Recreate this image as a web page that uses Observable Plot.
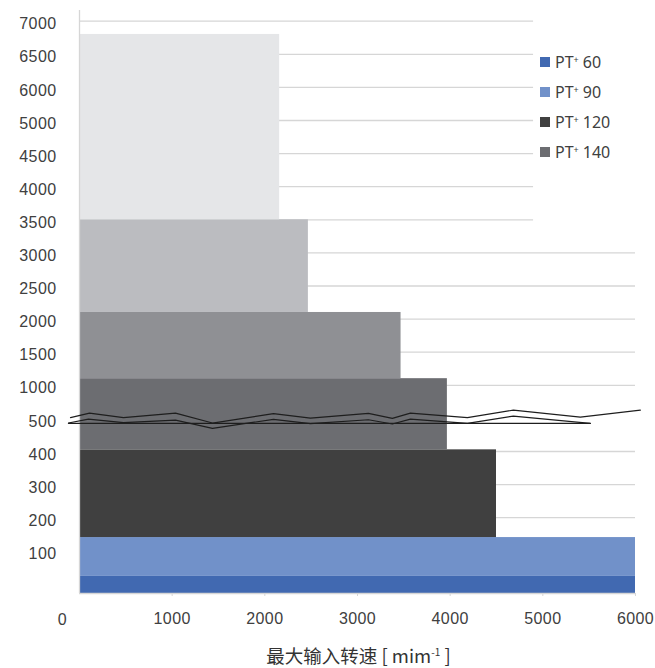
<!DOCTYPE html>
<html>
<head>
<meta charset="utf-8">
<script src="https://cdn.jsdelivr.net/npm/d3@7"></script>
<script src="https://cdn.jsdelivr.net/npm/@observablehq/plot@0.6"></script>
<style>
  body { margin: 0; background: #fff; }
  #wrap { position: relative; width: 655px; height: 668px; overflow: hidden; }
  #legend { position: absolute; left: 540px; top: 46.5px; font-family: "Noto Sans", "Liberation Sans", sans-serif; font-size: 16px; color: #404040; }
  .item { height: 30.2px; line-height: 30.2px; white-space: nowrap; display: flex; align-items: center; }
  .sw { width: 10px; height: 10px; margin-right: 5px; display: inline-block; }
  .item sup { font-size: 9px; line-height: 0; position: relative; top: -2px; vertical-align: super; margin-right: 4px; }
  #caption { position: absolute; top: 643px; left: 62px; width: 593px; text-align: center; font-family: "Noto Sans CJK SC", sans-serif; font-size: 18.5px; line-height: 24px; color: #333; }
  #caption sup { font-size: 10px; vertical-align: super; line-height: 0; }
</style>
</head>
<body>
<div id="wrap">
  <div id="chart"></div>
  <div id="legend"></div>
  <div id="caption">最大输入转速 [ mim<sup>-1</sup> ]</div>
</div>
<script>
// ---- data ----
const barSeries = ["PT⁺ 60", "PT⁺ 90", "PT⁺ 120", "PT⁺ 140", "band5", "band6", "band7"];
const barLow    = [0,    40,   140,  405,  1100, 2100, 3500];
const barHigh   = [40,   140,  405,  1100, 2100, 3500, 6800];
const barSpeed  = [6000, 6000, 4500, 3970, 3470, 2470, 2160];
const barColors = ["#4169b1", "#7191c9", "#404040", "#6c6d71", "#8f9094", "#bbbcc0", "#e5e6e8"];

const legendNames = ["PT", "PT", "PT", "PT"];
const legendNums  = ["60", "90", "120", "140"];

const yTickValues = [100, 200, 300, 400, 500, 1000, 1500, 2000, 2500, 3000, 3500, 4000, 4500, 5000, 6000, 6500, 7000];
const xTickValues = [1000, 2000, 3000, 4000, 5000, 6000];
const xZeroLabel  = [0];
const gridLong  = [100, 200, 300, 400, 1000, 1500, 2000, 2500, 3000];
const gridShort = [3500, 4000, 4500, 5000, 6000, 6500, 7000];
const gridLongEnd = 6000;
const gridShortEnd = 4900;

// axis break zig-zags (data units)
const breakAx = [-97, 108, 475, 1036, 1435, 2093, 2492, 3118, 3376, 3571, 4186, 4682, 5405, 6052];
const breakAy = [511, 580, 511, 580, 486, 571, 505, 575, 500, 580, 511, 625, 520, 625];
const breakBx = [-119, 97, 475, 1036, 1435, 2093, 2492, 3118, 3376, 3571, 4186, 4682, 5512];
const breakBy = [486, 498, 487, 495, 470, 497, 484, 496, 483, 498, 485, 535, 485];
const breakCx = [-119, 5512];
const breakCy = [485, 485];

// broken axis: value breakpoints and their positions in equal tick steps
const yBreakValues = [0, 100, 500, 5000, 6000, 7000];
const yBreakSteps  = [0, 1.29, 5.29, 14.29, 15.29, 17.29];

// ---- build tables ----
const yPos = d3.scaleLinear().domain(yBreakValues).range(yBreakSteps);
const bars = barSeries.map((s, i) => ({series: s, lo: barLow[i], hi: barHigh[i], speed: barSpeed[i]}));
const toPts = (xs, ys) => xs.map((x, i) => ({x, y: ys[i]}));
const breakA = toPts(breakAx, breakAy);
const breakB = toPts(breakBx, breakBy);
const breakC = toPts(breakCx, breakCy);

const gridColor = "#d6d6d6";

const chart = Plot.plot({
  width: 655,
  height: 636,
  marginLeft: 79,
  marginRight: 20,
  marginTop: 20.7,
  marginBottom: 43,
  style: {fontFamily: "'Liberation Sans', Arial, sans-serif", fontSize: "16px", color: "#404040", background: "#fff", letterSpacing: "0.4px", overflow: "visible"},
  x: {domain: [0, 6000]},
  y: {transform: v => yPos(v), domain: [0, 17.29], axis: null},
  color: {domain: barSeries, range: barColors},
  marks: [
    Plot.ruleY(gridLong, {y: d => d, x1: 0, x2: gridLongEnd, stroke: gridColor, strokeWidth: 1.3}),
    Plot.ruleY(gridShort, {y: d => d, x1: 0, x2: gridShortEnd, stroke: gridColor, strokeWidth: 1.3}),
    Plot.rect(bars, {x1: 0, x2: "speed", y1: "lo", y2: "hi", fill: "series"}),
    Plot.ruleX([0], {x: d => d, y1: 0, y2: 7160, stroke: gridColor, strokeWidth: 1.3}),
    Plot.ruleY([0], {y: d => d, x1: 0, x2: 6000, stroke: gridColor, strokeWidth: 1.3}),
    Plot.line(breakA, {x: "x", y: "y", stroke: "#1e1e1e", strokeWidth: 1.2, clip: false}),
    Plot.line(breakB, {x: "x", y: "y", stroke: "#1e1e1e", strokeWidth: 1.2, clip: false}),
    Plot.line(breakC, {x: "x", y: "y", stroke: "#1e1e1e", strokeWidth: 1.2, clip: false}),
    Plot.text(yTickValues, {y: d => d, frameAnchor: "left", dx: -23, dy: 3, textAnchor: "end", text: d => String(d), fill: "#404040"}),
    Plot.axisX({ticks: xTickValues, tickSize: 3, tickPadding: 16.5, stroke: gridColor, tickFormat: d => String(d), label: null}),
    Plot.text(xZeroLabel, {x: d => d, y: d => d, dx: -17, dy: 26, text: d => String(d), fill: "#404040"})
  ]
});
document.getElementById("chart").appendChild(chart);

// ---- legend ----
const legend = document.getElementById("legend");
legendNames.forEach((n, i) => {
  const row = document.createElement("div");
  row.className = "item";
  row.innerHTML = `<span class="sw" style="background:${barColors[i]}"></span>${n}<sup>+</sup>${legendNums[i]}`;
  legend.appendChild(row);
});
</script>
</body>
</html>
